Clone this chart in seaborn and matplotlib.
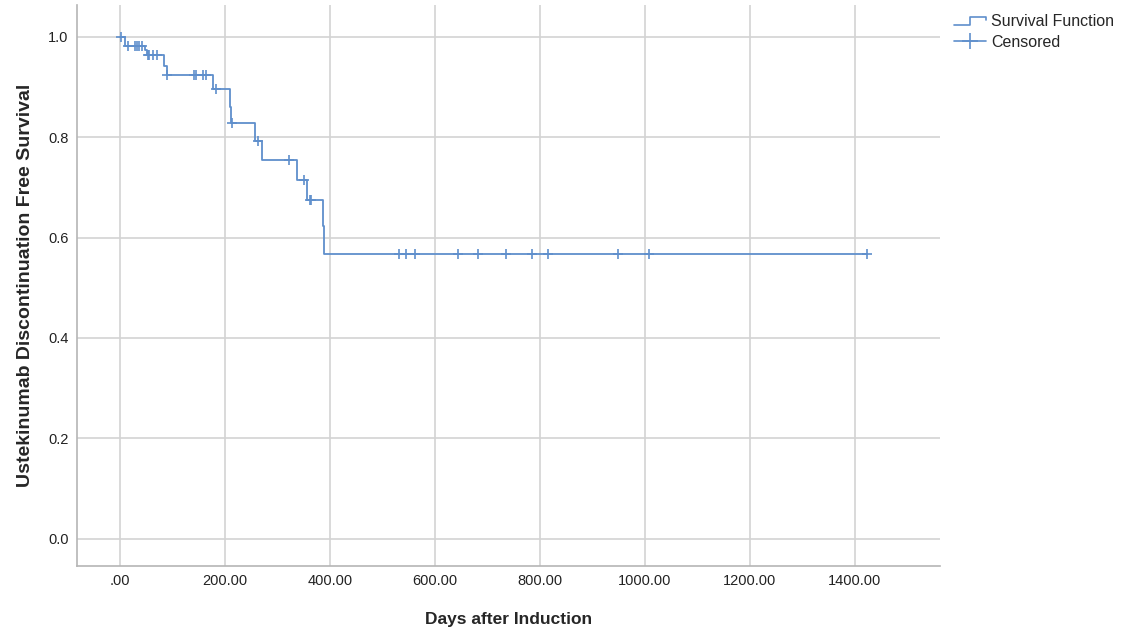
import numpy as np
import pandas as pd
import matplotlib
matplotlib.use("Agg")
import matplotlib.pyplot as plt
from matplotlib.lines import Line2D
from matplotlib.legend_handler import HandlerBase
import seaborn as sns

# Setting seaborn style
sns.set_style("white")
plt.rcParams['font.family'] = ['Liberation Sans', 'DejaVu Sans']

# Kaplan-Meier step values
event_days = [0, 10, 48, 51, 84, 89, 178, 209, 212, 258, 271, 337, 357, 386, 389, 1423]
survival = [1.0, 0.982, 0.973, 0.964, 0.942, 0.923, 0.896, 0.860, 0.829, 0.793,
            0.755, 0.715, 0.674, 0.622, 0.568, 0.568]

# censored observations (days)
censored_days = [1, 16, 29, 33, 37, 41, 54, 56, 63, 70, 90, 140, 144, 158, 163, 182,
                 214, 262, 322, 351, 361, 364, 531, 544, 562, 644, 682, 735, 785,
                 815, 949, 1008, 1423]

x_ticks = [0, 200, 400, 600, 800, 1000, 1200, 1400]
y_ticks = [0.0, 0.2, 0.4, 0.6, 0.8, 1.0]

line_color = '#5f8fcc'
grid_color = '#d3d3d3'

df_steps = pd.DataFrame({'days': event_days, 'surv': survival})
# survival level at each censored time = last step at or before it
idx = np.searchsorted(event_days, censored_days, side='right') - 1
df_cens = pd.DataFrame({'days': censored_days, 'surv': np.array(survival)[idx]})

fig = plt.figure(figsize=(11.22, 6.34), dpi=100)
ax = fig.add_axes([77 / 1122, 1 - 566 / 634, (940 - 77) / 1122, (566 - 5) / 634])

sns.lineplot(data=df_steps, x='days', y='surv', drawstyle='steps-post',
             color=line_color, linewidth=1.3, ax=ax, zorder=3)
sns.scatterplot(data=df_cens, x='days', y='surv', marker='+', s=60,
                color=line_color, linewidth=1.2, ax=ax, zorder=4)

ax.set_xlim(-82, 1562)
ax.set_ylim(-0.054, 1.063)
ax.set_xticks(x_ticks)
ax.set_xticklabels(['.00' if v == 0 else f'{v:.2f}' for v in x_ticks])
ax.set_yticks(y_ticks)
ax.set_yticklabels([f'{v:.1f}' for v in y_ticks])
ax.tick_params(axis='both', length=0, labelsize=10.5, colors='#222222')
ax.tick_params(axis='x', pad=6)
ax.tick_params(axis='y', pad=6)

ax.grid(True, color=grid_color, linewidth=1.2)
ax.set_axisbelow(True)
for side in ['top', 'right']:
    ax.spines[side].set_visible(False)
for side in ['left', 'bottom']:
    ax.spines[side].set_color('#b5b5b5')
    ax.spines[side].set_linewidth(1.2)

ax.set_xlabel('Days after Induction', fontsize=12.5, fontweight='bold', labelpad=17)
ax.set_ylabel('Ustekinumab Discontinuation Free Survival', fontsize=14,
              fontweight='bold', labelpad=10)


# legend symbol for the step function
class HandlerStep(HandlerBase):
    def create_artists(self, legend, orig_handle, xdescent, ydescent, width, height,
                       fontsize, trans):
        x0 = -xdescent
        y_lo = -ydescent + height * 0.15
        y_hi = -ydescent + height * 0.85
        xs = [x0, x0 + width * 0.5, x0 + width * 0.5, x0 + width, x0 + width]
        ys = [y_lo, y_lo, y_hi, y_hi, y_hi - height * 0.3]
        line = Line2D(xs, ys, color=line_color, linewidth=1.2, transform=trans)
        return [line]


surv_handle = Line2D([0], [0], color=line_color)
cens_handle = Line2D([0], [0], color=line_color, marker='+', markersize=12,
                     markeredgewidth=1.2, linewidth=1.2)
fig.legend([surv_handle, cens_handle], ['Survival Function', 'Censored'],
           handler_map={surv_handle: HandlerStep()},
           loc='upper left', bbox_to_anchor=(951 / 1122, 1 - 11 / 634),
           frameon=False, fontsize=11.5, handlelength=2.0, handletextpad=0.3,
           labelspacing=0.35, borderaxespad=0, borderpad=0.2)

fig.savefig('out.png', dpi=100)
plt.close(fig)
